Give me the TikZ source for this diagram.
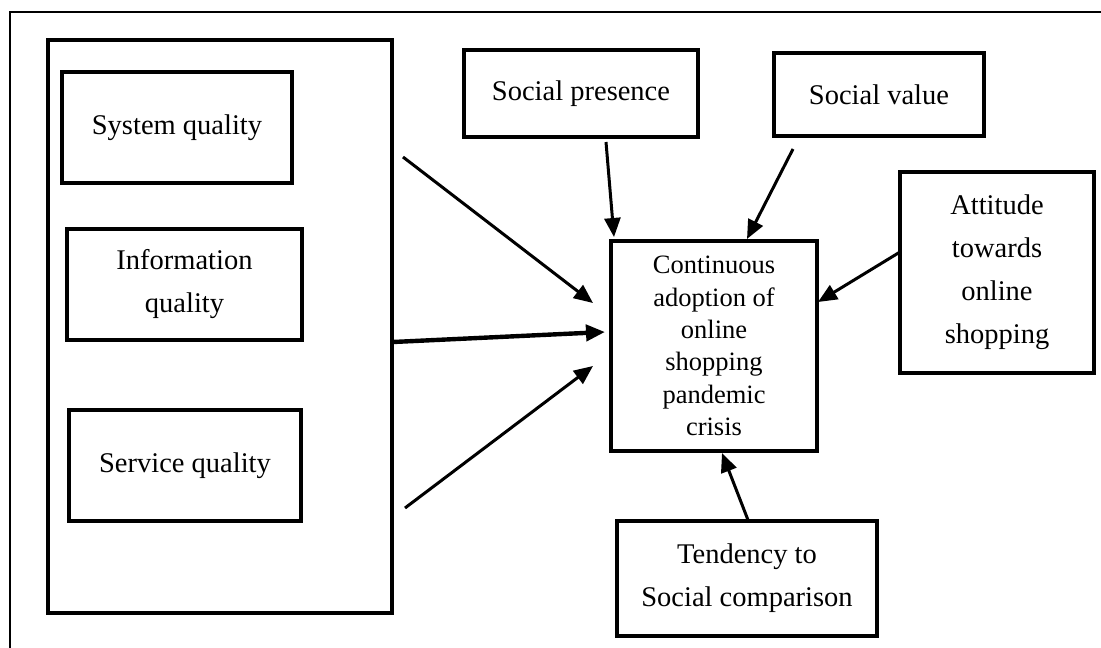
\documentclass[tikz,border=0pt]{standalone}
\usepackage{fontspec}
\setmainfont{Liberation Serif}
\usetikzlibrary{arrows.meta}
\begin{document}
\begin{tikzpicture}[x=1pt,y=-1pt,
  box/.style={draw, line width=3.2pt, inner sep=0pt, outer sep=0pt, align=center,
    font=\fontsize{28.5}{43}\selectfont},
  ctrbox/.style={box, font=\fontsize{26.5}{32.3}\selectfont},
  arr/.style={line width=3pt, -{Triangle[length=19pt,width=16pt]}},
  thickarr/.style={arr, line width=4.4pt},
]
\useasboundingbox (0,0) rectangle (1101,648);
% outer frame (only top and left edges are visible)
\draw[line width=2.6pt] (10,660) -- (10,12) -- (1110,12);

\node[box, minimum width=344, minimum height=573] (big) at (220,326.5) {};
\node[box, minimum width=230, minimum height=111] (sys) at (177,127.5) {System quality};
\node[box, minimum width=235, minimum height=111] (info) at (184.5,284.5) {Information\\quality};
\node[box, minimum width=232, minimum height=111] (serv) at (185,465.5) {Service quality};
\node[box, minimum width=234, minimum height=87] (sp) at (581,93.5) {Social presence};
\node[box, minimum width=210, minimum height=83] (sv) at (879,94.5) {Social value};
\node[box, minimum width=194, minimum height=201] (att) at (997,272.5) {Attitude\\towards\\online\\shopping};
\node[ctrbox, minimum width=206, minimum height=210] (ctr) at (714,346) {Continuous\\adoption of\\online\\shopping\\pandemic\\crisis};
\node[box, minimum width=260, minimum height=115] (tend) at (747,578.5) {Tendency to\\Social comparison};

% connector end points
\coordinate (a1s) at (403,157);  \coordinate (a1e) at (593,303);
\coordinate (a2s) at (393,342);  \coordinate (a2e) at (605,332);
\coordinate (a3s) at (405,508);  \coordinate (a3e) at (593,366);
\coordinate (a4s) at (606,142);  \coordinate (a4e) at (614,237);
\coordinate (a5s) at (793,149);  \coordinate (a5e) at (747,239);
\coordinate (a6s) at (900,252);  \coordinate (a6e) at (818,302);
\coordinate (a7s) at (748,520);  \coordinate (a7e) at (722,453);

\draw[arr] (a1s) -- (a1e);
\draw[thickarr] (a2s) -- (a2e);
\draw[arr] (a3s) -- (a3e);
\draw[arr] (a4s) -- (a4e);
\draw[arr] (a5s) -- (a5e);
\draw[arr] (a6s) -- (a6e);
\draw[arr] (a7s) -- (a7e);
\end{tikzpicture}
\end{document}
